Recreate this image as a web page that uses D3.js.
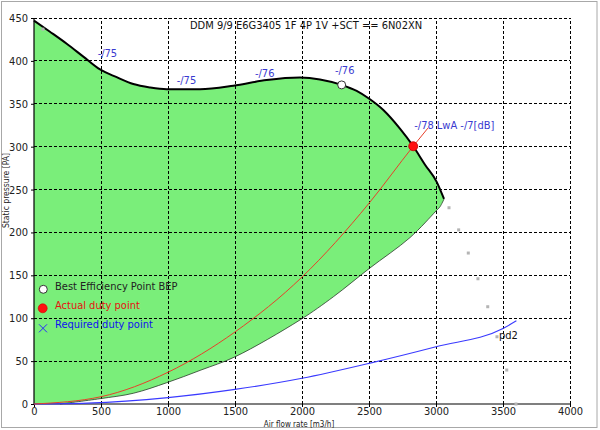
<!DOCTYPE html>
<html>
<head>
<meta charset="utf-8">
<script src="https://cdn.jsdelivr.net/npm/d3@7"></script>
<style>
  body { margin: 0; background: #fff; }
  svg text { font-family: "Liberation Sans Narrow", "DejaVu Sans Condensed", "Liberation Sans", Arial, sans-serif; }
</style>
</head>
<body>
<svg id="chart" width="600" height="430"></svg>
<script>
// fan curve (air flow m3/h, static pressure Pa)
var fanFlow     = [0, 119, 244, 368, 493, 617, 741, 866, 990, 1239, 1488, 1736, 1985, 2134, 2296, 2408, 2502, 2607, 2731, 2830, 2918, 3005, 3060];
var fanPressure = [447, 434, 420, 405, 390, 381, 373, 369, 367, 367, 371, 377.6, 380.5, 378.4, 372, 365, 355.8, 342.7, 321, 300.5, 279, 259, 239];

// lower limit of the working area
var limFlow     = [3060, 3030, 3000, 2806, 2502, 2234, 1985, 1500, 1246, 990, 741, 493, 194];
var limPressure = [239, 230, 225, 194, 158, 125, 98, 55, 39.6, 24.8, 12.5, 6.2, 0];

// system curve through the actual duty point
var sysFlow     = [0, 500, 1000, 1500, 2000, 2500, 2830, 2940];
var sysPressure = [0, 8.5, 37, 84, 148, 234, 300.5, 321.7];

// required curve pd2
var reqFlow     = [0, 400, 1000, 1500, 2000, 2500, 3000, 3500, 3600];
var reqPressure = [0, 1, 7.4, 17, 30, 47.4, 66.8, 88, 97];

// grey markers
var dotFlow     = [67, 3097, 3169, 3241, 3313, 3386, 3455, 3528, 3597];
var dotPressure = [437, 228.8, 203, 176, 146, 113.4, 78.4, 39.6, 0];

var bep  = {flow: 2296, pressure: 372};
var duty = {flow: 2830, pressure: 300.5};

var noiseLabels = [
    {text: "-/75", flow: 475,  pressure: 404},
    {text: "-/75", flow: 1065, pressure: 373},
    {text: "-/76", flow: 1649, pressure: 381},
    {text: "-/76", flow: 2246, pressure: 385}
];
var dutyLabel = "-/78 LwA -/7[dB]";

var xTicks = [0, 500, 1000, 1500, 2000, 2500, 3000, 3500, 4000];
var yTicks = [0, 50, 100, 150, 200, 250, 300, 350, 400, 450];

var title = "DDM 9/9 E6G3405 1F 4P 1V +SCT == 6N02XN";

function pairs(xs, ys) {
    return xs.map(function(v, i) { return [v, ys[i]]; });
}

var svg = d3.select("#chart");
var x = d3.scaleLinear().domain([0, 4000]).range([34, 570]);
var y = d3.scaleLinear().domain([0, 450]).range([404, 18]);

// outer frame
svg.append("rect").attr("x", 1.5).attr("y", 1.5).attr("width", 595.5).attr("height", 426)
    .attr("fill", "#fff").attr("stroke", "#a8a8a8");

var line = d3.line()
    .x(function(d) { return x(d[0]); })
    .y(function(d) { return y(d[1]); })
    .curve(d3.curveMonotoneX);
var lineLim = d3.line()
    .x(function(d) { return x(d[0]); })
    .y(function(d) { return y(d[1]); })
    .curve(d3.curveCatmullRom.alpha(0.5));

var fan = pairs(fanFlow, fanPressure);
var lim = pairs(limFlow, limPressure);

// green working area
var areaPath = line(fan) + "L" + lineLim(lim).slice(1) + "L" + x(0) + "," + y(0) + "Z";
svg.append("path").attr("d", areaPath).attr("fill", "#7aee7a").attr("stroke", "none");

// grid
svg.append("g").selectAll("line").data(xTicks.slice(1)).enter().append("line")
    .attr("x1", function(d) { return x(d); }).attr("x2", function(d) { return x(d); })
    .attr("y1", y(0)).attr("y2", y(450))
    .attr("stroke", "#000").attr("stroke-width", 1).attr("stroke-dasharray", "3,2")
    .attr("shape-rendering", "crispEdges");
svg.append("g").selectAll("line").data(yTicks.slice(1)).enter().append("line")
    .attr("y1", function(d) { return y(d); }).attr("y2", function(d) { return y(d); })
    .attr("x1", x(0)).attr("x2", x(4000))
    .attr("stroke", "#000").attr("stroke-width", 1).attr("stroke-dasharray", "3,2")
    .attr("shape-rendering", "crispEdges");

// axes
var xAxis = d3.axisBottom(x).tickValues(xTicks).tickSize(3).tickPadding(2).tickFormat(d3.format("d"));
var yAxis = d3.axisLeft(y).tickValues(yTicks).tickSize(3).tickPadding(3).tickFormat(d3.format("d"));
var gx = svg.append("g").attr("transform", "translate(0," + y(0) + ")").call(xAxis);
var gy = svg.append("g").attr("transform", "translate(" + x(0) + ",0)").call(yAxis);
[gx, gy].forEach(function(g) {
    g.select(".domain").remove();
    g.selectAll("text").attr("font-size", 11).attr("fill", "#222");
    g.selectAll("line").attr("stroke", "#000");
});
gx.selectAll("text").attr("dy", "0.55em");
svg.append("line").attr("x1", x(0)).attr("x2", x(4000)).attr("y1", y(0)).attr("y2", y(0))
    .attr("stroke", "#000").attr("stroke-width", 1.2);
svg.append("line").attr("x1", x(0)).attr("x2", x(0)).attr("y1", y(0)).attr("y2", y(450))
    .attr("stroke", "#000").attr("stroke-width", 1.2);

// lower limit line
svg.append("path").attr("d", lineLim(lim)).attr("fill", "none").attr("stroke", "#2a3a2a").attr("stroke-width", 0.8);

// required curve
svg.append("path").attr("d", line(pairs(reqFlow, reqPressure))).attr("fill", "none")
    .attr("stroke", "#3a3aff").attr("stroke-width", 1.1);

// system curve
svg.append("path").attr("d", line(pairs(sysFlow, sysPressure))).attr("fill", "none")
    .attr("stroke", "#e8402a").attr("stroke-width", 1);

// fan curve
svg.append("path").attr("d", line(fan)).attr("fill", "none").attr("stroke", "#000").attr("stroke-width", 2);

// grey markers
svg.append("g").selectAll("rect").data(pairs(dotFlow, dotPressure)).enter().append("rect")
    .attr("x", function(d) { return x(d[0]) - 1.5; })
    .attr("y", function(d) { return y(d[1]) - 1.5; })
    .attr("width", 3).attr("height", 3).attr("fill", "#b4b4b4");

// noise labels
svg.append("g").selectAll("text").data(noiseLabels).enter().append("text")
    .attr("x", function(d) { return x(d.flow); })
    .attr("y", function(d) { return y(d.pressure); })
    .attr("font-size", 11).attr("fill", "#3a3ad0")
    .text(function(d) { return d.text; });

// BEP and duty point
svg.append("circle").attr("cx", x(bep.flow)).attr("cy", y(bep.pressure)).attr("r", 4)
    .attr("fill", "#fff").attr("stroke", "#333").attr("stroke-width", 1);
svg.append("circle").attr("cx", x(duty.flow)).attr("cy", y(duty.pressure)).attr("r", 4.5)
    .attr("fill", "#ff1010").attr("stroke", "#c00000").attr("stroke-width", 0.8);
svg.append("text").attr("x", x(duty.flow) + 1).attr("y", y(duty.pressure) - 17.5)
    .attr("font-size", 11).attr("fill", "#3a3ad0").text(dutyLabel);
svg.append("text").attr("x", x(3597) - 17).attr("y", y(78.4) + 2.5)
    .attr("font-size", 11).attr("fill", "#111").text("pd2");

// title
svg.append("text").attr("x", 190).attr("y", 29).attr("font-size", 11).attr("fill", "#111").text(title);

// legend
var lg = svg.append("g").attr("font-size", 11);
lg.append("circle").attr("cx", 43.3).attr("cy", 289.3).attr("r", 4).attr("fill", "#fff").attr("stroke", "#333");
lg.append("text").attr("x", 55).attr("y", 289.5).attr("fill", "#222").text("Best Efficiency Point BEP");
lg.append("circle").attr("cx", 42.7).attr("cy", 308.3).attr("r", 4.5).attr("fill", "#ff1010").attr("stroke", "#d00000").attr("stroke-width", 0.6);
lg.append("text").attr("x", 55).attr("y", 308.5).attr("fill", "#e81010").text("Actual duty point");
lg.append("path").attr("d", "M39,324.3L47,332.3M47,324.3L39,332.3").attr("stroke", "#2a2aff").attr("stroke-width", 1);
lg.append("text").attr("x", 55).attr("y", 328).attr("fill", "#1010f0").text("Required duty point");

// axis titles
svg.append("text").attr("x", 299).attr("y", 427).attr("text-anchor", "middle")
    .attr("font-size", 8).attr("fill", "#222").text("Air flow rate [m3/h]");
svg.append("text").attr("transform", "translate(9,190.5) rotate(-90)").attr("text-anchor", "middle")
    .attr("font-size", 8.5).attr("fill", "#222").text("Static pressure [PA]");
</script>
</body>
</html>
